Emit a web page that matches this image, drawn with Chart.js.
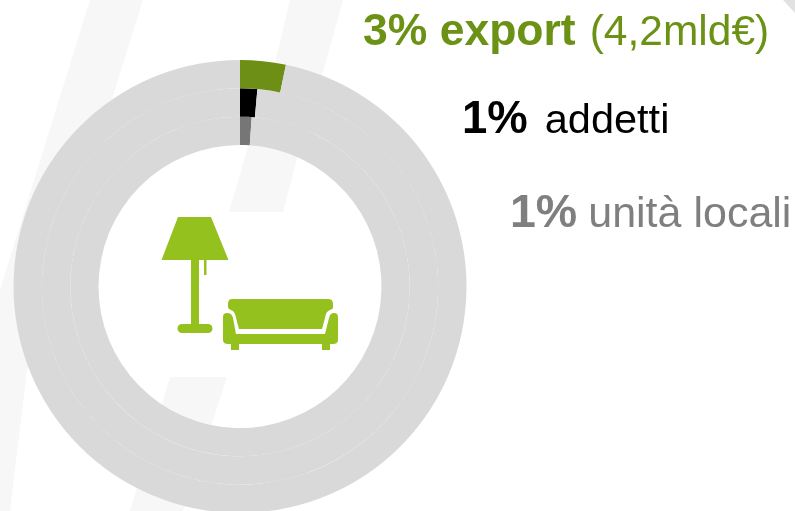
<!DOCTYPE html>
<html><head><meta charset="utf-8">
<style>
html,body{margin:0;padding:0;width:795px;height:511px;overflow:hidden;background:#fff;font-family:"Liberation Sans",Arial,sans-serif}
#bg,#icon{position:absolute;left:0;top:0}
#wrap{position:absolute;left:10px;top:56px;width:460px;height:461px}
.t{position:absolute;white-space:nowrap;line-height:50px;height:50px}
</style>
<script src="https://cdn.jsdelivr.net/npm/chart.js@4"></script>
</head><body>
<svg id="bg" width="795" height="511"><g fill="#f7f7f7">
<polygon points="90,0 143,0 27,370 10,511 0,511 0,290"/>
<polygon points="290,0 275,63 248,147 229,212 283,212 300,147 325,65 343,0"/>
<polygon points="170,377 227,377 183,511 130,511"/>
</g><polygon points="783,0 795,0 795,13" fill="#e2e2e2"/></svg>
<div id="wrap"><canvas id="c" width="460" height="461"></canvas></div>
<svg id="icon" width="795" height="511"><g fill="#95c11f">
<polygon points="178,217 211,217 228.500,260 161.500,260"/>
<rect x="191" y="260" width="8" height="66"/>
<rect x="204" y="260" width="2.500" height="15"/>
<rect x="177.500" y="324" width="35" height="9" rx="4.500"/>
<path d="M232,299 H328 Q333,299 333,304 V308 Q333,309 330,310 Q326,311 325,318 L322,329 H239 L236,318 Q235,311 231,310 Q228,309 228,307 V304 Q228,299 232,299 Z"/>
<path d="M227,313 Q232,313 233,318 L236,334 H325 L329,318 Q330,313 334,313 Q338,313 338,317 V340 Q338,344 333,344 H330 V350 H322 V344 H239 V350 H231 V344 H228 Q223,344 223,340 V317 Q223,313 227,313 Z"/>
</g></svg>
<div class="t" style="left:363px;top:5px;color:#6b9115"><b style="font-size:44.500px">3% export</b><span style="font-size:42.500px;margin-left:14px">(4,2mld€)</span></div>
<div class="t" style="left:462px;top:93px;color:#000"><b style="font-size:45.500px">1%</b><span style="font-size:41.500px;margin-left:17px">addetti</span></div>
<div class="t" style="left:510px;top:186px;color:#7f7f7f"><b style="font-size:46.500px">1%</b><span style="font-size:43px;margin-left:11px">unità locali</span></div>
<script>
const labels = ["quota", "resto"];
const exportQuota = [3.25, 96.75];
const addetti = [1.4, 98.6];
const unitaLocali = [1.1, 98.9];
const colUnita = "#767676", colAddetti = "#000000", colExport = "#6d8f15", colResto = "#d9d9d9";
new Chart(document.getElementById("c"), {
  type: "doughnut",
  data: { labels, datasets: [
    { label: "export", data: exportQuota, backgroundColor: [colExport, colResto], borderWidth: 0 },
    { label: "addetti", data: addetti, backgroundColor: [colAddetti, colResto], borderWidth: 0 },
    { label: "unità locali", data: unitaLocali, backgroundColor: [colUnita, colResto], borderWidth: 0 }
  ]},
  options: {
    responsive: false, animation: false, radius: 226.5, cutout: "62.47%",
    layout: { padding: 0 },
    plugins: { legend: { display: false }, tooltip: { enabled: false } }
  }
});
</script>
</body></html>
